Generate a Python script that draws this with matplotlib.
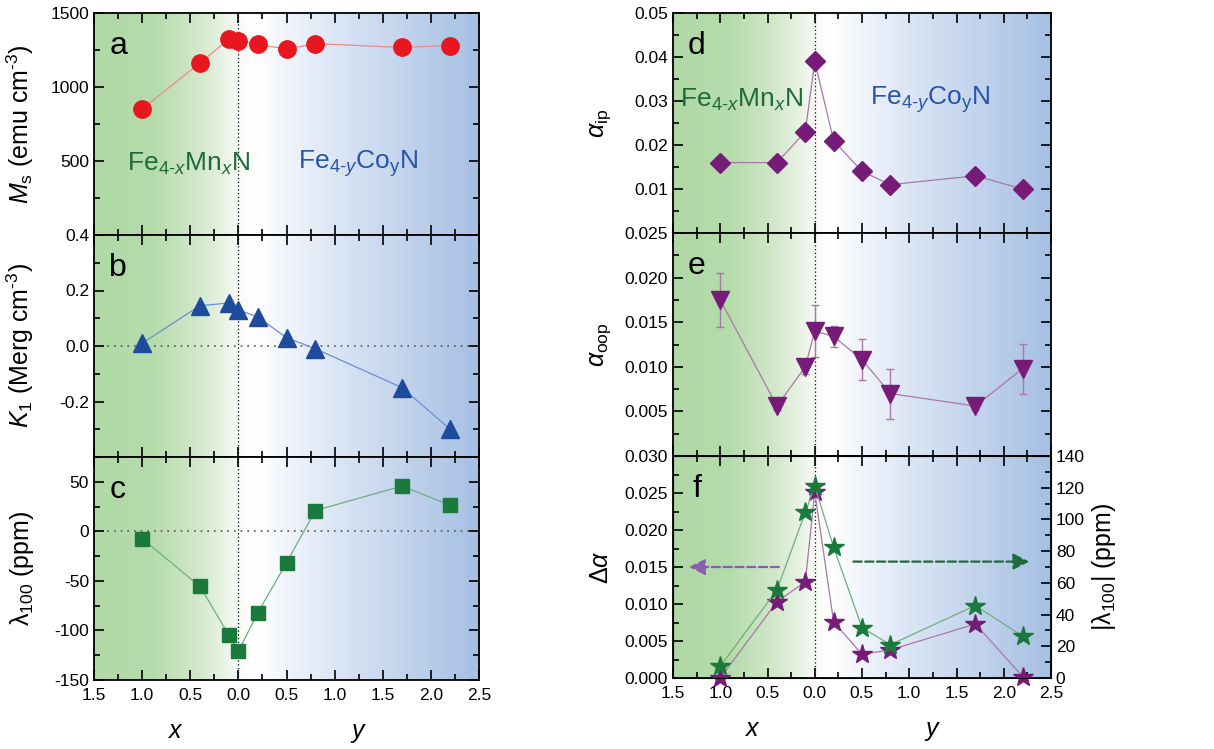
import numpy as np
import matplotlib
matplotlib.use("Agg")
import matplotlib.pyplot as plt
from matplotlib.ticker import MultipleLocator, FixedLocator

plt.rcParams['font.family'] = ['Liberation Sans', 'DejaVu Sans']
plt.rcParams['mathtext.fontset'] = 'custom'
plt.rcParams['mathtext.rm'] = 'Liberation Sans'
plt.rcParams['mathtext.it'] = 'Liberation Sans:italic'
plt.rcParams['mathtext.bf'] = 'Liberation Sans:bold'

# composition axis: x (Mn) on the left drawn as negative, y (Co) on the right
pos = [-1.0, -0.4, -0.1, 0.0, 0.2, 0.5, 0.8, 1.7, 2.2]

ms_sat = [852, 1162, 1323, 1314, 1289, 1256, 1293, 1267, 1280]
k1 = [0.01, 0.145, 0.155, 0.13, 0.105, 0.03, -0.01, -0.15, -0.30]
lam100 = [-7.4, -55.5, -104.5, -121, -82.5, -31.7, 21, 45.7, 26.4]
alpha_ip = [0.016, 0.016, 0.023, 0.039, 0.021, 0.014, 0.011, 0.013, 0.010]
alpha_oop = [0.0175, 0.0056, 0.0100, 0.0140, 0.0134, 0.0108, 0.0070, 0.0056, 0.0098]
alpha_oop_err = [0.0030, 0.0004, 0.0008, 0.0029, 0.0012, 0.0023, 0.0028, 0.0004, 0.0028]
delta_alpha = [0.0000, 0.0103, 0.0130, 0.0251, 0.0076, 0.0032, 0.0038, 0.0073, 0.0002]
abs_lam100 = [7.4, 55.5, 104.5, 121, 82.5, 31.7, 21, 45.7, 26.4]

xtick_pos = [-1.5, -1.0, -0.5, 0.0, 0.5, 1.0, 1.5, 2.0, 2.5]
xtick_lab = ['1.5', '1.0', '0.5', '0.0', '0.5', '1.0', '1.5', '2.0', '2.5']

RED = '#E8161E'
BLUE = '#1D4C9C'
GREEN = '#197A3C'
PURPLE = '#761C78'

MN_LABEL = 'Fe$_{4\u2010x}$Mn$_{x}$N'
CO_LABEL = 'Fe$_{4\u2010y}$Co$_\\mathrm{y}$N'

W, H = 1214, 749
fig = plt.figure(figsize=(W / 100, H / 100), dpi=100)


def box(x0, x1, y0, y1):
    return [x0 / W, 1 - y1 / H, (x1 - x0) / W, (y1 - y0) / H]


# background gradient (green -> white -> blue)
stops_t = [-1.5, -0.9, -0.4, 0.0, 0.15, 1.0, 2.5]
stops_c = np.array([[0.69, 0.85, 0.65], [0.71, 0.86, 0.67], [0.83, 0.91, 0.80],
                    [0.97, 0.98, 0.96], [1.0, 1.0, 1.0], [0.86, 0.90, 0.96],
                    [0.65, 0.75, 0.89]])
tt = np.linspace(-1.5, 2.5, 400)
grad = np.stack([np.interp(tt, stops_t, stops_c[:, i]) for i in range(3)], axis=-1)[None, :, :]


def setup(ax, ylim, major, minor, letter, bottom=False):
    ax.set_xlim(-1.5, 2.5)
    ax.set_ylim(*ylim)
    ax.imshow(grad, extent=[-1.5, 2.5, ylim[0], ylim[1]], aspect='auto', zorder=0)
    ax.axvline(0, color='k', ls=(0, (1, 2)), lw=0.9, zorder=1)
    ax.xaxis.set_major_locator(FixedLocator(xtick_pos))
    ax.xaxis.set_minor_locator(MultipleLocator(0.25))
    ax.yaxis.set_major_locator(MultipleLocator(major))
    ax.yaxis.set_minor_locator(MultipleLocator(minor))
    ax.tick_params(which='both', direction='in', top=True, right=True, width=1.2)
    ax.tick_params(which='major', length=7, labelsize=12.5)
    ax.tick_params(which='minor', length=4)
    for s in ax.spines.values():
        s.set_linewidth(1.3)
    if bottom:
        ax.set_xticklabels(xtick_lab)
        ax.tick_params(axis='x', pad=6)
        ax.text(-0.66, -0.23, 'x', transform=ax.get_xaxis_transform(), ha='center',
                va='center', fontsize=18, style='italic')
        ax.text(1.24, -0.23, 'y', transform=ax.get_xaxis_transform(), ha='center',
                va='center', fontsize=18, style='italic')
    else:
        ax.set_xticklabels([])
    ax.text(-1.25, 0.85, letter, transform=ax.get_xaxis_transform(), fontsize=23,
            ha='center', va='center')


line_kw = dict(lw=0.9, zorder=2)

# ---- left column ----
ax_a = fig.add_axes(box(94, 479, 13, 235))
setup(ax_a, (0, 1500), 500, 250, 'a')
ax_a.plot(pos, ms_sat, color='#EE8A86', **line_kw)
ax_a.plot(pos, ms_sat, ls='none', marker='o', ms=12.5, color=RED, zorder=3)
ax_a.set_yticks([500, 1000, 1500])
ax_a.set_ylabel('$M_\\mathrm{s}$ (emu cm$^{\\mathrm{\u2010}3}$)', fontsize=18)
ax_a.text(-0.52, 480, MN_LABEL, color='#1E6B3A', fontsize=19, ha='center', va='center')
ax_a.text(1.24, 480, CO_LABEL, color='#2A55A8', fontsize=19, ha='center', va='center')

ax_b = fig.add_axes(box(94, 479, 235, 457))
setup(ax_b, (-0.4, 0.4), 0.2, 0.1, 'b')
ax_b.axhline(0, color='#555555', ls=(0, (1, 3)), lw=1.2, zorder=1)
ax_b.plot(pos, k1, color='#6B8ED0', **line_kw)
ax_b.plot(pos, k1, ls='none', marker='^', ms=13, color=BLUE, zorder=3)
ax_b.set_yticks([-0.2, 0.0, 0.2, 0.4])
ax_b.set_yticklabels(['-0.2', '0.0', '0.2', '0.4'])
ax_b.set_ylabel('$K_1$ (Merg cm$^{\\mathrm{\u2010}3}$)', fontsize=18)

ax_c = fig.add_axes(box(94, 479, 457, 680))
setup(ax_c, (-150, 75), 50, 25, 'c', bottom=True)
ax_c.axhline(0, color='#555555', ls=(0, (1, 3)), lw=1.2, zorder=1)
ax_c.plot(pos, lam100, color='#6FAE80', **line_kw)
ax_c.plot(pos, lam100, ls='none', marker='s', ms=10.5, color=GREEN, zorder=3)
ax_c.set_yticks([-150, -100, -50, 0, 50])
ax_c.set_yticklabels(['-150', '-100', '-50', '0', '50'])
ax_c.set_ylabel('λ$_{100}$ (ppm)', fontsize=18)

# ---- right column ----
ax_d = fig.add_axes(box(673, 1051, 13, 233))
setup(ax_d, (0, 0.05), 0.01, 0.005, 'd')
ax_d.plot(pos, alpha_ip, color='#A878AA', **line_kw)
ax_d.plot(pos, alpha_ip, ls='none', marker='D', ms=10, color=PURPLE, zorder=3)
ax_d.set_yticks([0.01, 0.02, 0.03, 0.04, 0.05])
ax_d.set_yticklabels(['0.01', '0.02', '0.03', '0.04', '0.05'])
ax_d.set_ylabel(r'$\alpha_\mathrm{ip}$', fontsize=18)
ax_d.text(-0.77, 0.0303, MN_LABEL, color='#1E6B3A', fontsize=19, ha='center', va='center')
ax_d.text(1.22, 0.0303, CO_LABEL, color='#2A55A8', fontsize=19, ha='center', va='center')

ax_e = fig.add_axes(box(673, 1051, 233, 456))
setup(ax_e, (0, 0.025), 0.005, 0.0025, 'e')
ax_e.errorbar(pos, alpha_oop, yerr=alpha_oop_err, fmt='none', ecolor='#A878AA',
              elinewidth=1.0, capsize=3, capthick=1.0, zorder=2)
ax_e.plot(pos, alpha_oop, color='#A878AA', **line_kw)
ax_e.plot(pos, alpha_oop, ls='none', marker='v', ms=13, color=PURPLE, zorder=3)
ax_e.set_yticks([0.005, 0.010, 0.015, 0.020, 0.025])
ax_e.set_yticklabels(['0.005', '0.010', '0.015', '0.020', '0.025'])
ax_e.set_ylabel(r'$\alpha_\mathrm{oop}$', fontsize=18)

ax_f = fig.add_axes(box(673, 1051, 456, 678))
setup(ax_f, (0, 0.030), 0.005, 0.0025, 'f', bottom=True)
ax_f.tick_params(axis='y', right=False, which='both')
ax_f.set_yticks([0, 0.005, 0.010, 0.015, 0.020, 0.025, 0.030])
ax_f.set_yticklabels(['0.000', '0.005', '0.010', '0.015', '0.020', '0.025', '0.030'])
ax_f.set_ylabel(r'Δ$\alpha$', fontsize=18)
ax_f.plot(pos, delta_alpha, color='#A878AA', **line_kw)
ax_f.plot(pos, delta_alpha, ls='none', marker='*', ms=15, color=PURPLE, zorder=4,
          clip_on=False)
ax_f.annotate('', xy=(-1.36, 0.015), xytext=(-0.35, 0.015),
              arrowprops=dict(arrowstyle='-|>', ls='--', lw=1.6, color='#8A5DB0',
                              mutation_scale=24))

ax_f2 = ax_f.twinx()
ax_f2.set_ylim(0, 140)
ax_f2.yaxis.set_major_locator(MultipleLocator(20))
ax_f2.yaxis.set_minor_locator(MultipleLocator(10))
ax_f2.tick_params(which='both', direction='in', width=1.2, labelsize=12.5)
ax_f2.tick_params(which='major', length=7)
ax_f2.tick_params(which='minor', length=4)
ax_f2.plot(pos, abs_lam100, color='#6FAE80', lw=0.9, zorder=2)
ax_f2.plot(pos, abs_lam100, ls='none', marker='*', ms=15, color=GREEN, zorder=3,
           clip_on=False)
ax_f2.annotate('', xy=(2.3, 73.4), xytext=(0.38, 73.4),
               arrowprops=dict(arrowstyle='-|>', ls='--', lw=1.6, color='#1E6B3A',
                               mutation_scale=24))
ax_f2.set_ylabel('|λ$_{100}$| (ppm)', fontsize=18)
ax_f2.set_zorder(ax_f.get_zorder() + 1)
ax_f2.patch.set_visible(False)

for ax in (ax_a, ax_b, ax_c):
    ax.yaxis.set_label_coords(-0.15, 0.5)
for ax in (ax_d, ax_e, ax_f):
    ax.yaxis.set_label_coords(-0.16, 0.5)

fig.savefig('out.png', dpi=100)
